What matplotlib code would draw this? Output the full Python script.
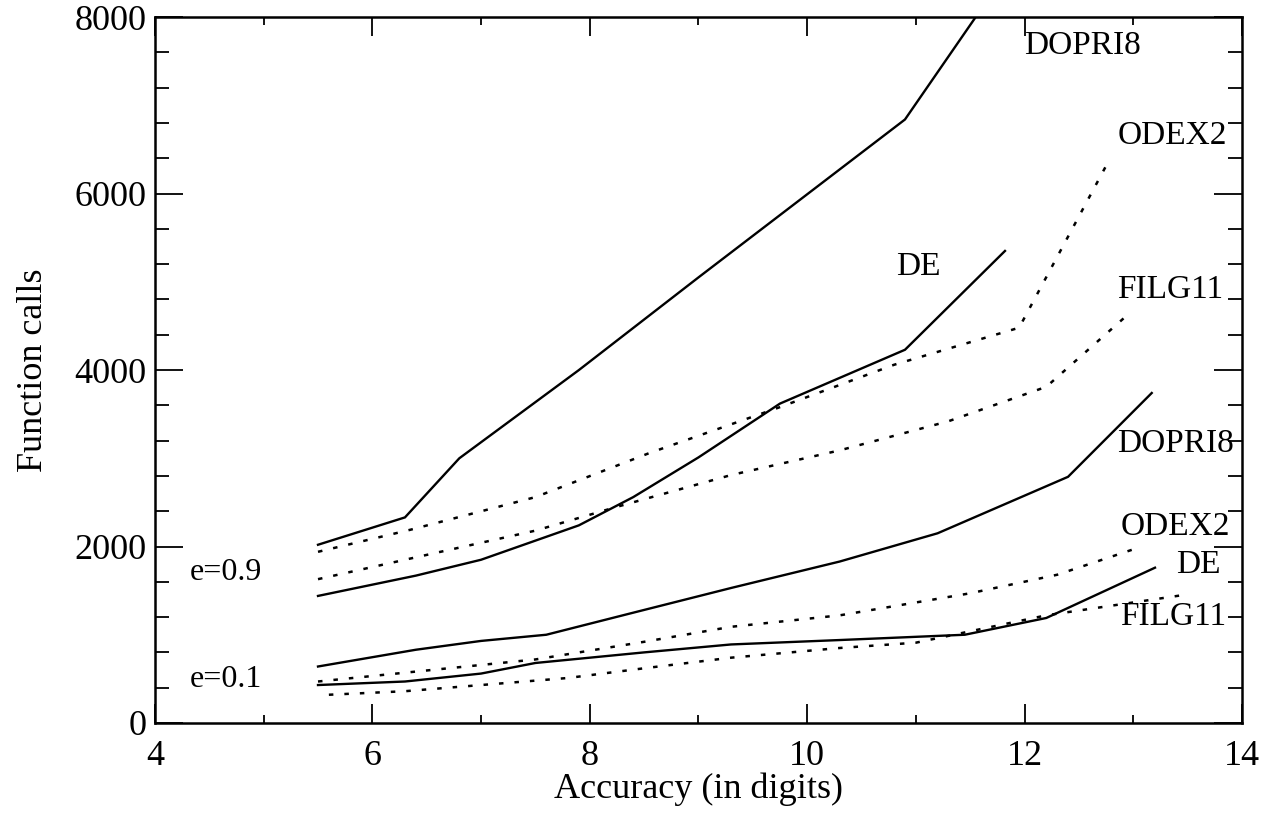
import matplotlib
matplotlib.use("Agg")
import matplotlib.pyplot as plt
from matplotlib.ticker import MultipleLocator

plt.rcParams['font.family'] = ['Liberation Serif', 'DejaVu Serif']

# Eccentricity e=0.9
dopri8_hi_x = [5.5, 6.3, 6.8, 7.9, 9.0, 10.9, 11.55]
dopri8_hi_y = [2020, 2330, 3000, 4000, 5050, 6840, 8000]

de_hi_x = [5.5, 6.4, 7.0, 7.9, 8.4, 9.0, 9.75, 10.9, 11.82]
de_hi_y = [1440, 1670, 1850, 2240, 2560, 3010, 3620, 4230, 5350]

odex2_hi_x = [5.5, 6.35, 7.5, 8.55, 9.75, 10.8, 11.95, 12.77]
odex2_hi_y = [1940, 2190, 2560, 3060, 3580, 4060, 4480, 6360]

filg11_hi_x = [5.5, 6.3, 7.5, 8.25, 9.3, 10.3, 11.3, 12.2, 12.97]
filg11_hi_y = [1630, 1850, 2180, 2450, 2810, 3090, 3420, 3810, 4650]

# Eccentricity e=0.1
dopri8_lo_x = [5.5, 6.4, 7.0, 7.6, 8.4, 9.3, 10.3, 11.2, 12.4, 13.17]
dopri8_lo_y = [640, 830, 930, 1000, 1250, 1530, 1830, 2150, 2790, 3740]

de_lo_x = [5.5, 6.3, 7.0, 7.5, 8.5, 9.3, 10.3, 11.45, 12.2, 13.2]
de_lo_y = [430, 470, 560, 680, 800, 890, 940, 1000, 1190, 1760]

odex2_lo_x = [5.5, 6.3, 7.5, 8.5, 9.3, 10.3, 11.5, 12.3, 13.03]
odex2_lo_y = [470, 570, 720, 920, 1090, 1220, 1470, 1680, 1980]

filg11_lo_x = [5.6, 6.3, 7.8, 8.5, 9.3, 10.3, 11.0, 12.2, 13.46]
filg11_lo_y = [320, 360, 510, 620, 740, 850, 910, 1220, 1450]

# Curve labels: (text, x, y)
curve_labels = [
    ("DOPRI8", 12.53, 7680),
    ("ODEX2", 13.36, 6660),
    ("DE", 11.02, 5170),
    ("FILG11", 13.34, 4910),
    ("DOPRI8", 13.39, 3170),
    ("ODEX2", 13.39, 2220),
    ("DE", 13.6, 1790),
    ("FILG11", 13.37, 1200),
]
group_labels = [("e=0.9", 4.65, 1700), ("e=0.1", 4.65, 490)]

fig = plt.figure(figsize=(12.66, 8.16), dpi=100)
ax = fig.add_axes([0.1224, 0.114, 0.8586, 0.865])

solid = dict(color='black', lw=1.7, ls='-', solid_joinstyle='miter')
dotted = dict(color='black', lw=1.8, ls=(0, (1.8, 4.4)))

ax.plot(dopri8_hi_x, dopri8_hi_y, **solid)
ax.plot(de_hi_x, de_hi_y, **solid)
ax.plot(odex2_hi_x, odex2_hi_y, **dotted)
ax.plot(filg11_hi_x, filg11_hi_y, **dotted)
ax.plot(dopri8_lo_x, dopri8_lo_y, **solid)
ax.plot(de_lo_x, de_lo_y, **solid)
ax.plot(odex2_lo_x, odex2_lo_y, **dotted)
ax.plot(filg11_lo_x, filg11_lo_y, **dotted)

for txt, x, y in curve_labels:
    ax.text(x, y, txt, fontsize=24, ha='center', va='center')
for txt, x, y in group_labels:
    ax.text(x, y, txt, fontsize=23, ha='center', va='center')

ax.set_xlim(4, 14)
ax.set_ylim(0, 8000)
ax.xaxis.set_major_locator(MultipleLocator(2))
ax.xaxis.set_minor_locator(MultipleLocator(1))
ax.yaxis.set_major_locator(MultipleLocator(2000))
ax.yaxis.set_minor_locator(MultipleLocator(400))

ax.tick_params(axis='both', which='both', direction='in',
               top=True, right=True, width=1.3, labelsize=26)
ax.tick_params(axis='y', which='major', length=20, pad=6)
ax.tick_params(axis='y', which='minor', length=10)
ax.tick_params(axis='x', which='major', length=14, pad=12)
ax.tick_params(axis='x', which='minor', length=6)

for sp in ax.spines.values():
    sp.set_linewidth(1.8)

ax.set_xlabel("Accuracy (in digits)", fontsize=26, labelpad=0)
ax.set_ylabel("Function calls", fontsize=26, labelpad=18)

fig.savefig("out.png", dpi=100)
